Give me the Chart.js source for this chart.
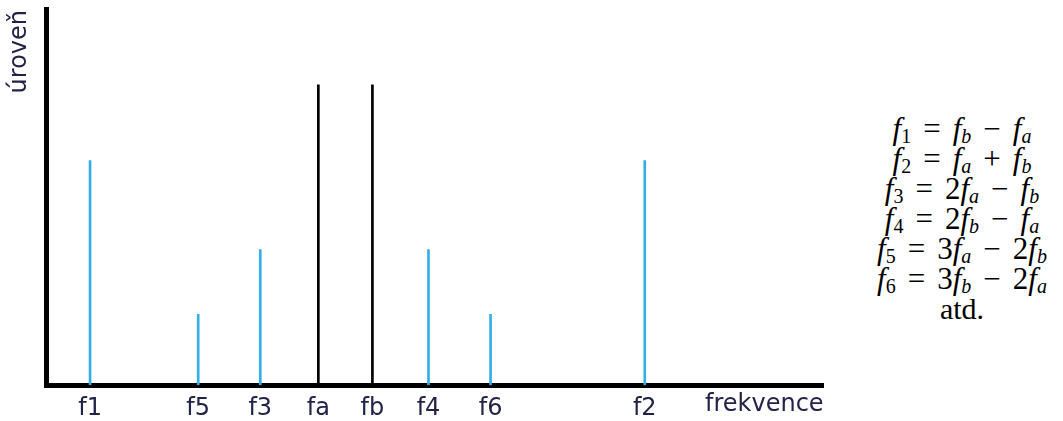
<!DOCTYPE html>
<html>
<head>
<meta charset="utf-8">
<script src="https://cdn.jsdelivr.net/npm/chart.js@4"></script>
<style>
    html, body { margin: 0; padding: 0; background: #fff; }
    .wrap { position: relative; width: 1063px; height: 421px; overflow: hidden; }
    .chart-box { position: absolute; left: 0; top: 0; width: 850px; height: 424px; }
    .formulas {
        position: absolute; left: 862px; top: 114px; width: 200px;
        text-align: center; font-family: "Liberation Serif", serif;
        font-size: 31px; line-height: 30px; color: #000; white-space: nowrap;
    }
    .formulas i { font-style: italic; }
    .formulas sub { font-size: 20px; vertical-align: -4px; line-height: 0; font-style: normal; }
    .formulas .op { margin: 0 12px; }
    .formulas .end { font-size: 30px; }
</style>
</head>
<body>
<div class="wrap">
    <div class="chart-box"><canvas id="spectrumChart"></canvas></div>
    <div class="formulas">
        <div><i>f</i><sub>1</sub><span class="op">=</span><i>f</i><sub><i>b</i></sub><span class="op">−</span><i>f</i><sub><i>a</i></sub></div>
        <div><i>f</i><sub>2</sub><span class="op">=</span><i>f</i><sub><i>a</i></sub><span class="op">+</span><i>f</i><sub><i>b</i></sub></div>
        <div><i>f</i><sub>3</sub><span class="op">=</span>2<i>f</i><sub><i>a</i></sub><span class="op">−</span><i>f</i><sub><i>b</i></sub></div>
        <div><i>f</i><sub>4</sub><span class="op">=</span>2<i>f</i><sub><i>b</i></sub><span class="op">−</span><i>f</i><sub><i>a</i></sub></div>
        <div><i>f</i><sub>5</sub><span class="op">=</span>3<i>f</i><sub><i>a</i></sub><span class="op">−</span>2<i>f</i><sub><i>b</i></sub></div>
        <div><i>f</i><sub>6</sub><span class="op">=</span>3<i>f</i><sub><i>b</i></sub><span class="op">−</span>2<i>f</i><sub><i>a</i></sub></div>
        <div class="end">atd.</div>
    </div>
</div>
<script>
// tones fa, fb and their intermodulation products (positions on the frequency axis)
const toneLabels = ['fa', 'fb'];
const tonePositions = [272, 326];
const toneLevels = [297, 297];

const productLabels = ['f1', 'f5', 'f3', 'f4', 'f6', 'f2'];
const productPositions = [44, 152, 214, 382, 444, 598];
const productLevels = [222, 70, 134, 134, 70, 222];

const axisMax = 776;
const levelMax = 372;

const tickPositions = [...productPositions, ...tonePositions].sort((a, b) => a - b);
const tickLabelFor = (v) => {
    const i = productPositions.indexOf(v);
    if (i >= 0) return productLabels[i];
    return toneLabels[tonePositions.indexOf(v)];
};

const labelColor = '#23234a';
const labelFont = { family: 'DejaVu Sans', size: 24 };

const extraLabels = {
    id: 'extraLabels',
    afterDraw(chart) {
        const { ctx } = chart;
        ctx.save();
        ctx.fillStyle = labelColor;
        ctx.font = `${labelFont.size}px "${labelFont.family}"`;
        ctx.textBaseline = 'middle';
        ctx.textAlign = 'left';
        ctx.fillText('frekvence', 705, 405);
        ctx.translate(20, 10);
        ctx.rotate(-Math.PI / 2);
        ctx.textAlign = 'right';
        ctx.fillText('úroveň', 0, 0);
        ctx.restore();
    },
};

new Chart(document.getElementById('spectrumChart'), {
    type: 'bar',
    data: {
        datasets: [
            {
                label: 'products',
                data: productPositions.map((x, i) => ({ x, y: productLevels[i] })),
                backgroundColor: '#35aee8',
                barThickness: 2,
                grouped: false,
            },
            {
                label: 'tones',
                data: tonePositions.map((x, i) => ({ x, y: toneLevels[i] })),
                backgroundColor: '#000000',
                barThickness: 2,
                grouped: false,
            },
        ],
    },
    options: {
        responsive: true,
        maintainAspectRatio: false,
        animation: false,
        layout: { padding: { left: 38, top: 9, right: 27, bottom: 0 } },
        plugins: { legend: { display: false }, tooltip: { enabled: false } },
        scales: {
            x: {
                type: 'linear',
                min: 0,
                max: axisMax,
                offset: false,
                grid: { display: false },
                border: { display: true, color: '#000', width: 5 },
                afterBuildTicks: (scale) => {
                    scale.ticks = tickPositions.map((value) => ({ value }));
                },
                ticks: {
                    color: labelColor,
                    font: labelFont,
                    padding: 1,
                    maxRotation: 0,
                    autoSkip: false,
                    callback: (value) => tickLabelFor(value),
                },
            },
            y: {
                min: 0,
                max: levelMax,
                grid: { display: false },
                border: { display: true, color: '#000', width: 5 },
                ticks: { display: false },
            },
        },
    },
    plugins: [extraLabels],
});
</script>
</body>
</html>
